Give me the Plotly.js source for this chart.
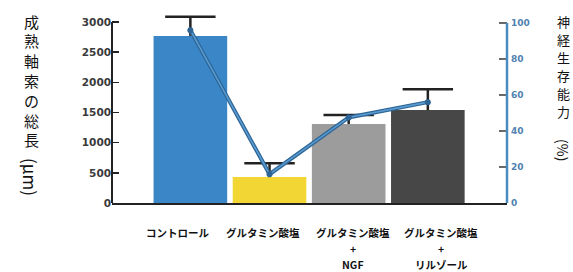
<!DOCTYPE html>
<html><head><meta charset="utf-8">
<script src="https://cdn.plot.ly/plotly-3.0.1.min.js"></script>
<style>html,body{margin:0;padding:0;background:#fff;}#chart{width:573px;height:272px;}</style>
</head><body><div id="chart"></div>
<script>
// ---- data ----
const categories = ['コントロール', 'グルタミン酸塩', 'グルタミン酸塩+NGF', 'グルタミン酸塩+リルゾール'];
const categoryLines = [
  ['コントロール'],
  ['グルタミン酸塩'],
  ['グルタミン酸塩', '+', 'NGF'],
  ['グルタミン酸塩', '+', 'リルゾール']
];
const axonLength = [2770, 430, 1310, 1540];       // μm (bars, left axis)
const axonLengthErr = [315, 230, 150, 345];
const survival = [96, 16, 47.5, 56];               // % (line, right axis)
const leftTicks = [0, 500, 1000, 1500, 2000, 2500, 3000];
const rightTicks = [0, 20, 40, 60, 80, 100];
const leftTitleChars = ['成','熟','軸','索','の','総','長'];
const leftTitleUnit = '(μm)';
const rightTitleChars = ['神','経','生','存','能','力'];
const rightTitleUnit = '(%)';

// ---- styles ----
const barColors = ['#3a86c6', '#f2d634', '#9c9c9c', '#474747'];
const xs = categories.map((c, i) => i);
const jp = '"Noto Sans CJK JP", "Noto Sans", sans-serif';

const bars = {
  type: 'bar', x: xs, y: axonLength, width: 0.93,
  marker: {color: barColors, line: {width: 0}},
  error_y: {type: 'data', symmetric: false, array: axonLengthErr,
            arrayminus: axonLength.map(() => 0), color: '#222', thickness: 2.5, width: 0},
  hoverinfo: 'none', showlegend: false
};
const caps = {
  type: 'scatter', mode: 'markers', x: xs, y: axonLength.map((v, i) => v + axonLengthErr[i]),
  marker: {symbol: 'line-ew', size: 36, line: {color: '#222', width: 2.5}},
  hoverinfo: 'none', showlegend: false, cliponaxis: false
};
const lineOuter = {
  type: 'scatter', mode: 'lines', x: xs, y: survival, yaxis: 'y2',
  line: {color: '#2c6596', width: 4}, hoverinfo: 'none', showlegend: false
};
const line = {
  type: 'scatter', mode: 'lines+markers', x: xs, y: survival, yaxis: 'y2',
  line: {color: '#5b9bd0', width: 1.6},
  marker: {color: '#2c6596', size: 6, symbol: 'circle'},
  hoverinfo: 'none', showlegend: false
};

const annotations = [];
const labelOffsets = [-0.16, -0.08, 0.05, 0.17];
categoryLines.forEach((lines, i) => {
  lines.forEach((t, k) => {
    annotations.push({
      text: t, xref: 'x', yref: 'paper', x: i + labelOffsets[i], y: 0,
      yanchor: 'middle', xanchor: 'center', yshift: -29 - 16 * k, showarrow: false, borderpad: 0,
      font: {family: jp, size: 10.5, color: '#111', weight: 600}
    });
  });
});
// vertical titles: one character per annotation (pixel offsets from plot top)
leftTitleChars.forEach((ch, k) => {
  annotations.push({
    text: ch, xref: 'paper', yref: 'paper', x: 0, y: 1, xshift: -81, yshift: -(6 + 19.8 * k),
    xanchor: 'center', yanchor: 'middle', showarrow: false, borderpad: 0,
    font: {family: jp, size: 15, color: '#111'}
  });
});
annotations.push({
  text: leftTitleUnit, xref: 'paper', yref: 'paper', x: 0, y: 1,
  xshift: -81, yshift: -162, xanchor: 'center', yanchor: 'middle', textangle: 90, showarrow: false,
  borderpad: 0, font: {family: jp, size: 17, color: '#111'}
});
rightTitleChars.forEach((ch, k) => {
  annotations.push({
    text: ch, xref: 'paper', yref: 'paper', x: 1, y: 1, xshift: 56, yshift: -(6 + 18 * k),
    xanchor: 'center', yanchor: 'middle', showarrow: false, borderpad: 0,
    font: {family: jp, size: 13, color: '#111'}
  });
});
annotations.push({
  text: rightTitleUnit, xref: 'paper', yref: 'paper', x: 1, y: 1,
  xshift: 56, yshift: -135, xanchor: 'center', yanchor: 'middle', textangle: 90, showarrow: false,
  borderpad: 0, font: {family: jp, size: 14, color: '#111'}
});

const layout = {
  width: 573, height: 272,
  margin: {l: 112, r: 66, t: 15, b: 69, pad: 0},
  paper_bgcolor: '#fff', plot_bgcolor: '#fff',
  showlegend: false,
  xaxis: {range: [-0.99, 4.0], showticklabels: false, ticks: '', showgrid: false, zeroline: false,
          showline: true, linecolor: '#222', linewidth: 2, fixedrange: true},
  yaxis: {range: [0, 3116], tickvals: leftTicks, ticks: 'inside', ticklen: 7, tickwidth: 1.5,
          tickcolor: '#222', showgrid: false, zeroline: false, showline: false,
          tickfont: {family: 'DejaVu Sans', size: 10.5, color: '#3a3a3a', weight: 'bold'}},
  yaxis2: {range: [0, 104.4], overlaying: 'y', side: 'right', tickvals: rightTicks, ticks: 'inside',
           ticklen: 8, tickwidth: 1.5, tickcolor: '#6a6a6a', showgrid: false, zeroline: false,
           showline: false, ticklabelstandoff: 3,
           tickfont: {family: 'DejaVu Sans', size: 9, color: '#4f82b0', weight: 'bold'}},
  shapes: [
    {type: 'line', xref: 'paper', yref: 'y', x0: 0, x1: 0, y0: 0, y1: 3000,
     line: {color: '#222', width: 2}},
    {type: 'line', xref: 'paper', yref: 'y2', x0: 1, x1: 1, y0: 0, y1: 100,
     line: {color: '#4a8cc2', width: 2.5}}
  ],
  annotations: annotations
};

Plotly.newPlot('chart', [bars, caps, lineOuter, line], layout, {displayModeBar: false, staticPlot: true});
</script></body></html>
